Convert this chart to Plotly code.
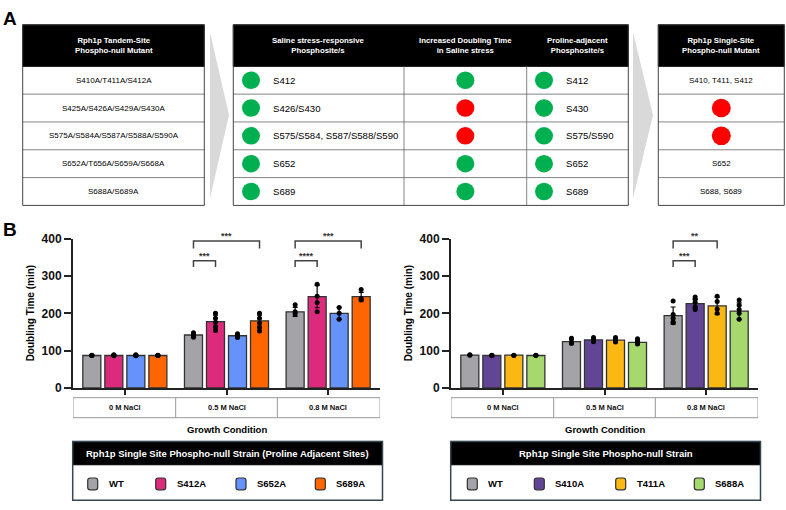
import plotly.graph_objects as go

# ---------------- DATA ----------------
# Panel A tables
tandem_header = "Rph1p Tandem-Site<br>Phospho-null Mutant"
tandem_mutants = ["S410A/T411A/S412A", "S425A/S426A/S429A/S430A",
                  "S575A/S584A/S587A/S588A/S590A", "S652A/T656A/S659A/S668A",
                  "S688A/S689A"]
mid_headers = ["Saline stress-responsive<br>Phosphosite/s",
               "Increased Doubling Time<br>in Saline stress",
               "Proline-adjacent<br>Phosphosite/s"]
saline_sites = ["S412", "S426/S430", "S575/S584, S587/S588/S590", "S652", "S689"]
increased_dt = [True, False, False, True, True]
proline_sites = ["S412", "S430", "S575/S590", "S652", "S689"]
single_header = "Rph1p Single-Site<br>Phospho-null Mutant"
single_site = ["S410, T411, S412", None, None, "S652", "S688, S689"]

# Panel B
conditions = ["0 M NaCl", "0.5 M NaCl", "0.8 M NaCl"]
yticks = [0, 100, 200, 300, 400]

left_strains = ["WT", "S412A", "S652A", "S689A"]
left_colors = ["#a3a3a8", "#dc2a7d", "#6592fb", "#ff6600"]
left_wt = [87, 142, 204]
left_s412a = [87, 178, 245]
left_s652a = [87, 140, 200]
left_s689a = [87, 180, 245]
left_wt_sd = [1, 5, 12]
left_s412a_sd = [2, 17, 30]
left_s652a_sd = [2, 4, 16]
left_s689a_sd = [1, 15, 11]
left_wt_pts = [[87, 88, 87], [148, 142, 136], [223, 204, 198]]
left_s412a_pts = [[86, 88, 89], [200, 187, 176, 165, 154], [278, 246, 229, 204]]
left_s652a_pts = [[86, 88, 89], [145, 141, 138, 135], [216, 200, 184]]
left_s689a_pts = [[87, 88, 87], [200, 187, 174, 162, 153], [264, 240, 236]]

right_strains = ["WT", "S410A", "T411A", "S688A"]
right_colors = ["#a3a3a8", "#634596", "#fbb712", "#a6d86e"]
right_wt = [88, 124, 194]
right_s410a = [87, 129, 226]
right_t411a = [88, 128, 220]
right_s688a = [87, 122, 206]
right_wt_sd = [1, 6, 23]
right_s410a_sd = [1, 4, 12]
right_t411a_sd = [1, 4, 23]
right_s688a_sd = [1, 5, 22]
right_wt_pts = [[88, 89], [133, 124, 119], [233, 197, 187, 177, 175]]
right_s410a_pts = [[87, 88], [135, 130, 126, 124], [244, 238, 230, 218, 210]]
right_t411a_pts = [[88, 87], [135, 130, 126, 123], [246, 232, 212, 200]]
right_s688a_pts = [[87, 88], [132, 125, 120, 118], [236, 222, 210, 200, 184]]

# brackets: (condition index, strain a, strain b, level, label)
left_brackets = [(1, 0, 1, 0, "***"), (1, 0, 3, 1, "***"),
                 (2, 0, 1, 0, "****"), (2, 0, 3, 1, "***")]
right_brackets = [(2, 0, 1, 0, "***"), (2, 0, 2, 1, "**")]
bracket_levels = [(324, 341), (374, 394)]

legend_left_title = "Rph1p Single Site Phospho-null Strain (Proline Adjacent Sites)"
legend_right_title = "Rph1p Single Site Phospho-null Strain"
xtitle = "Growth Condition"
ytitle = "Doubling Time (min)"

# ---------------- LAYOUT HELPERS ----------------
W, H = 786, 510
FONT = "Liberation Sans, Arial, sans-serif"


def px(x):
    return x / W


def py(y):
    return 1 - y / H


shapes = []
annotations = []


def rect(x0, y0, x1, y1, fill=None, line="#444", lw=1.0, layer="above"):
    shapes.append(dict(type="rect", xref="paper", yref="paper",
                       x0=px(x0), x1=px(x1), y0=py(y1), y1=py(y0),
                       fillcolor=fill if fill else "rgba(0,0,0,0)",
                       line=dict(color=line, width=lw), layer=layer))


def hline(x0, x1, y, color="#666", lw=0.8):
    shapes.append(dict(type="line", xref="paper", yref="paper",
                       x0=px(x0), x1=px(x1), y0=py(y), y1=py(y),
                       line=dict(color=color, width=lw)))


def vline(x, y0, y1, color="#666", lw=0.8):
    shapes.append(dict(type="line", xref="paper", yref="paper",
                       x0=px(x), x1=px(x), y0=py(y0), y1=py(y1),
                       line=dict(color=color, width=lw)))


def circle(cx, cy, r, color):
    shapes.append(dict(type="circle", xref="paper", yref="paper",
                       x0=px(cx - r), x1=px(cx + r), y0=py(cy + r), y1=py(cy - r),
                       fillcolor=color, line=dict(width=0)))


def text(x, y, s, size=8, color="black", bold=False, xanchor="center", yanchor="middle", angle=0):
    annotations.append(dict(xref="paper", yref="paper", x=px(x), y=py(y), text=s,
                            showarrow=False, xanchor=xanchor, yanchor=yanchor,
                            textangle=angle,
                            font=dict(family=FONT, size=size, color=color,
                                      weight=700 if bold else 400)))


def rounded(x0, y0, x1, y1, r, fill, line="#333", lw=1.2):
    path = (f"M {px(x0 + r)},{py(y0)} L {px(x1 - r)},{py(y0)} "
            f"Q {px(x1)},{py(y0)} {px(x1)},{py(y0 + r)} "
            f"L {px(x1)},{py(y1 - r)} Q {px(x1)},{py(y1)} {px(x1 - r)},{py(y1)} "
            f"L {px(x0 + r)},{py(y1)} Q {px(x0)},{py(y1)} {px(x0)},{py(y1 - r)} "
            f"L {px(x0)},{py(y0 + r)} Q {px(x0)},{py(y0)} {px(x0 + r)},{py(y0)} Z")
    shapes.append(dict(type="path", xref="paper", yref="paper", path=path,
                       fillcolor=fill, line=dict(color=line, width=lw)))


# ---------------- PANEL A ----------------
GREEN, RED = "#00b050", "#ff0000"
top, head_bot, bot = 18.3, 61.0, 204.0
n_rows = len(tandem_mutants)
row_h = (bot - head_bot) / n_rows
row_c = [head_bot + row_h * (i + 0.5) for i in range(n_rows)]

text(1, 12, "A", size=19, bold=True, xanchor="left")

# arrows (chevrons)
for (ax0, atip) in [(210, 229), (633, 653)]:
    shapes.append(dict(type="path", xref="paper", yref="paper",
                       path=f"M {px(ax0)},{py(26)} L {px(atip)},{py(111)} L {px(ax0)},{py(197)} Z",
                       fillcolor="#d9d9d9", line=dict(width=0), layer="below"))

# left table
LX0, LX1 = 22.7, 204.3
rect(LX0, top, LX1, head_bot, fill="black", line="black")
text((LX0 + LX1) / 2, (top + head_bot) / 2, tandem_header, size=7.8, color="white", bold=True)
for i in range(1, n_rows):
    hline(LX0, LX1, head_bot + row_h * i)
for i, s in enumerate(tandem_mutants):
    text((LX0 + LX1) / 2, row_c[i], s, size=8)
rect(LX0, top, LX1, bot, line="#444", lw=1)

# middle table
MX = [233.3, 404.0, 526.7, 628.3]
rect(MX[0], top, MX[3], head_bot, fill="black", line="black")
for j, h in enumerate(mid_headers):
    text((MX[j] + MX[j + 1]) / 2, (top + head_bot) / 2, h, size=7.8, color="white", bold=True)
for i in range(1, n_rows):
    hline(MX[0], MX[3], head_bot + row_h * i)
for xv in MX[1:3]:
    vline(xv, head_bot, bot)
for i in range(n_rows):
    circle(251, row_c[i], 9, GREEN)
    text(271, row_c[i], saline_sites[i], size=9.6, xanchor="left")
    circle((MX[1] + MX[2]) / 2, row_c[i], 9, GREEN if increased_dt[i] else RED)
    circle(544, row_c[i], 9, GREEN)
    text(564, row_c[i], proline_sites[i], size=9.6, xanchor="left")
rect(MX[0], top, MX[3], bot, line="#444", lw=1)

# right table
RX0, RX1 = 658.3, 784.3
rect(RX0, top, RX1, head_bot, fill="black", line="black")
text((RX0 + RX1) / 2, (top + head_bot) / 2, single_header, size=7.8, color="white", bold=True)
for i in range(1, n_rows):
    hline(RX0, RX1, head_bot + row_h * i)
for i, s in enumerate(single_site):
    if s is None:
        circle((RX0 + RX1) / 2, row_c[i], 9.5, RED)
    else:
        text((RX0 + RX1) / 2, row_c[i], s, size=8)
rect(RX0, top, RX1, bot, line="#444", lw=1)

# ---------------- PANEL B ----------------
text(1, 229, "B", size=19, bold=True, xanchor="left")

fig = go.Figure()

Y0, Y1 = 391.7, 238.3
XR = [-0.51, 2.51]
cat_px = 101.6
slot = 22 / cat_px
bar_w = 18 / cat_px

panels = [
    dict(xa="x", ya="y", ax0=73.0, ax1=380.0, strains=left_strains, colors=left_colors,
         means=[left_wt, left_s412a, left_s652a, left_s689a],
         sds=[left_wt_sd, left_s412a_sd, left_s652a_sd, left_s689a_sd],
         pts=[left_wt_pts, left_s412a_pts, left_s652a_pts, left_s689a_pts],
         brackets=left_brackets, title=legend_left_title, ytx=30,
         leg_x=[87.7, 155.7, 236.0, 315.3]),
    dict(xa="x2", ya="y2", ax0=451.0, ax1=758.0, strains=right_strains, colors=right_colors,
         means=[right_wt, right_s410a, right_t411a, right_s688a],
         sds=[right_wt_sd, right_s410a_sd, right_t411a_sd, right_s688a_sd],
         pts=[right_wt_pts, right_s410a_pts, right_t411a_pts, right_s688a_pts],
         brackets=right_brackets, title=legend_right_title, ytx=408,
         leg_x=[467.3, 534.3, 615.7, 694.3]),
]

for p in panels:
    n = len(p["strains"])
    offs = [(j - (n - 1) / 2) * slot for j in range(n)]
    for j in range(n):
        xs = [i + offs[j] for i in range(len(conditions))]
        fig.add_trace(go.Bar(
            x=xs, y=p["means"][j], width=bar_w, xaxis=p["xa"], yaxis=p["ya"],
            marker=dict(color=p["colors"][j], line=dict(color="#333", width=1.3)),
            error_y=dict(type="data", array=p["sds"][j], visible=True,
                         color="black", thickness=1.2, width=2.5),
            name=p["strains"][j], showlegend=False))
        dx, dy = [], []
        for i, pts in enumerate(p["pts"][j]):
            for v in pts:
                dx.append(i + offs[j])
                dy.append(v)
        fig.add_trace(go.Scatter(
            x=dx, y=dy, mode="markers", xaxis=p["xa"], yaxis=p["ya"],
            marker=dict(color="black", size=5), showlegend=False, hoverinfo="skip"))
    # significance brackets
    for (ci, a, b, lev, lab) in p["brackets"]:
        xa_, xb_ = ci + offs[a], ci + offs[b]
        yl, yt = bracket_levels[lev]
        shapes.append(dict(type="path", xref=p["xa"], yref=p["ya"],
                           path=f"M {xa_},{yl} L {xa_},{yt} L {xb_},{yt} L {xb_},{yl}",
                           line=dict(color="#444", width=1.5)))
        annotations.append(dict(xref=p["xa"], yref=p["ya"], x=(xa_ + xb_) / 2, y=yt,
                                text=lab, showarrow=False, yanchor="bottom", yshift=-2,
                                font=dict(family=FONT, size=9, color="#333", weight=700)))
    # y title
    text(p["ytx"], (Y0 + Y1) / 2, ytitle, size=10, bold=True, angle=-90)
    # condition table under axis
    cy0, cy1 = 401.7, 422.3
    xref_ = p["xa"]
    shapes.append(dict(type="rect", xref=xref_, yref="paper", x0=XR[0], x1=XR[1],
                       y0=py(cy1), y1=py(cy0), line=dict(color="#999", width=1)))
    for k in range(1, len(conditions)):
        shapes.append(dict(type="line", xref=xref_, yref="paper", x0=k - 0.5, x1=k - 0.5,
                           y0=py(cy1), y1=py(cy0), line=dict(color="#999", width=1)))
    for i, c in enumerate(conditions):
        annotations.append(dict(xref=xref_, yref="paper", x=i, y=py((cy0 + cy1) / 2),
                                text=c, showarrow=False, yanchor="middle",
                                font=dict(family=FONT, size=7.5, color="#111", weight=700)))
    text((p["ax0"] + p["ax1"]) / 2, 434.3, xtitle, size=9.5, bold=True)
    # legend box
    lx0, lx1 = p["ax0"] - 0.3, p["ax1"] + 2.5
    ly0, lyh, ly1 = 446.7, 470.7, 507.3
    rect(lx0, ly0, lx1, lyh, fill="black", line="black")
    text((lx0 + lx1) / 2, (ly0 + lyh) / 2, p["title"], size=9.5, color="white", bold=True)
    rect(lx0, ly0, lx1, ly1, line="#37474f", lw=1.5)
    for j in range(n):
        sx = p["leg_x"][j]
        rounded(sx, 484.3, sx + 10, 496.5, 2.5, p["colors"][j])
        text(sx + 19, 490.3, p["strains"][j], size=9.5, bold=True, xanchor="left")

axis_common = dict(showgrid=False, zeroline=False, showline=True, linecolor="#222",
                   linewidth=2, ticks="outside", tickcolor="#222", tickwidth=2)
fig.update_layout(
    width=W, height=H, margin=dict(l=0, r=0, t=0, b=0),
    paper_bgcolor="white", plot_bgcolor="white", showlegend=False,
    barmode="overlay",
    xaxis=dict(domain=[px(73.0), px(380.0)], range=XR, tickvals=[0, 1, 2],
               showticklabels=False, ticklen=5, anchor="y", **axis_common),
    yaxis=dict(domain=[py(Y0), py(Y1)], range=[0, 400], tickvals=yticks, ticklen=7,
               anchor="x", tickfont=dict(family=FONT, size=12, color="#111", weight=700),
               **axis_common),
    xaxis2=dict(domain=[px(451.0), px(758.0)], range=XR, tickvals=[0, 1, 2],
                showticklabels=False, ticklen=5, anchor="y2", **axis_common),
    yaxis2=dict(domain=[py(Y0), py(Y1)], range=[0, 400], tickvals=yticks, ticklen=7,
                anchor="x2", tickfont=dict(family=FONT, size=12, color="#111", weight=700),
                **axis_common),
    shapes=shapes, annotations=annotations,
)

fig.write_html("out.html")
